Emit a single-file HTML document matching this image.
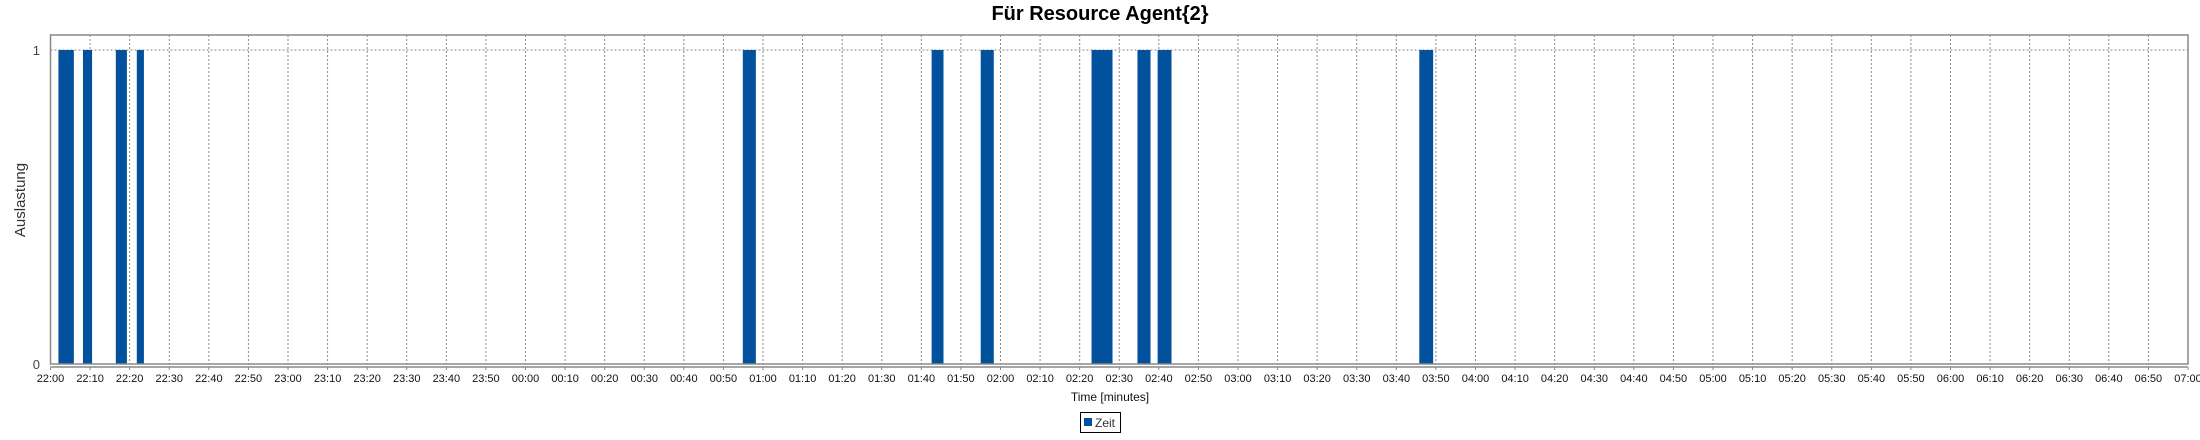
<!DOCTYPE html>
<html><head><meta charset="utf-8"><style>
body{margin:0;background:#fff;width:2200px;height:435px;overflow:hidden}
text{font-family:"Liberation Sans",sans-serif}
</style></head><body>
<svg id="chart" width="2200" height="435" viewBox="0 0 2200 435" xmlns="http://www.w3.org/2000/svg">
<text x="1100" y="20" text-anchor="middle" font-size="20" font-weight="bold">Für Resource Agent{2}</text>
<text x="0" y="0" transform="translate(25,200) rotate(-90)" text-anchor="middle" font-size="15" fill="#333">Auslastung</text>
<text x="1110" y="401" text-anchor="middle" font-size="12" fill="#111">Time [minutes]</text>
<g id="grid"></g><g id="bars"></g><g id="axes"></g>
<g>
<rect x="1080.5" y="412.5" width="40" height="20" fill="#fff" stroke="#000"/>
<rect x="1084" y="418" width="8" height="8" fill="#02519c"/>
<text x="1095" y="427" font-size="12" fill="#333">Zeit</text>
</g>
</svg>
<script>
const barStart=[2,8.2,16.5,21.8,174.9,222.6,235,263,274.6,279.7,345.8];
const barEnd=[5.9,10.5,19.3,23.6,178.2,225.6,238.3,268.3,277.9,283.2,349.3];
const barValue=[1,1,1,1,1,1,1,1,1,1,1];
const xTickLabels=[];
for(let i=0;i<=54;i++){const t=22*60+i*10;const h=Math.floor(t/60)%24,m=t%60;xTickLabels.push(String(h).padStart(2,'0')+':'+String(m).padStart(2,'0'));}
const yTicks=[0,1];
const L=50.5,R=2188,T=35,B=364;
const xMax=540;
const x=m=>L+(R-L)*m/xMax;
const y=v=>B-(B-50)*v;
const NS='http://www.w3.org/2000/svg';
function mk(tag,attrs,parent){const e=document.createElementNS(NS,tag);for(const k in attrs)e.setAttribute(k,attrs[k]);document.getElementById(parent).appendChild(e);return e;}
xTickLabels.forEach((lab,i)=>{const px=x(i*10);
 if(i>0&&i<54){const g=mk('line',{x1:px,x2:px,y1:T,y2:B,stroke:'#888','stroke-dasharray':'2,2','stroke-width':1},'grid');
 
 }
 const tk=mk('line',{x1:px,x2:px,y1:367,y2:370,stroke:'#888'},'axes');
 
 
 const t=mk('text',{x:px,y:382,'text-anchor':'middle','font-size':'11',fill:'#111'},'axes');t.textContent=lab;
 
 
});
yTicks.forEach(v=>{const py=y(v);
 if(v>0){const g=mk('line',{x1:L,x2:R,y1:py,y2:py,stroke:'#888','stroke-dasharray':'2,2'},'grid');
 
 }
 const t=mk('text',{x:40,y:py+5,'text-anchor':'end','font-size':'13',fill:'#444'},'axes');t.textContent=v;
 
 
});
barStart.forEach((s,i)=>{const r=mk('rect',{x:x(s),y:y(barValue[i]),width:x(barEnd[i])-x(s),height:B-y(barValue[i]),fill:'#02519c'},'bars');
 
 });
const f=mk('rect',{x:L,y:T,width:R-L,height:B-T,fill:'none',stroke:'#888','stroke-width':1.5},'axes');


const xa=mk('line',{x1:L,x2:R,y1:367,y2:367,stroke:'#888','stroke-width':1.5},'axes');


</script>
</body></html>
